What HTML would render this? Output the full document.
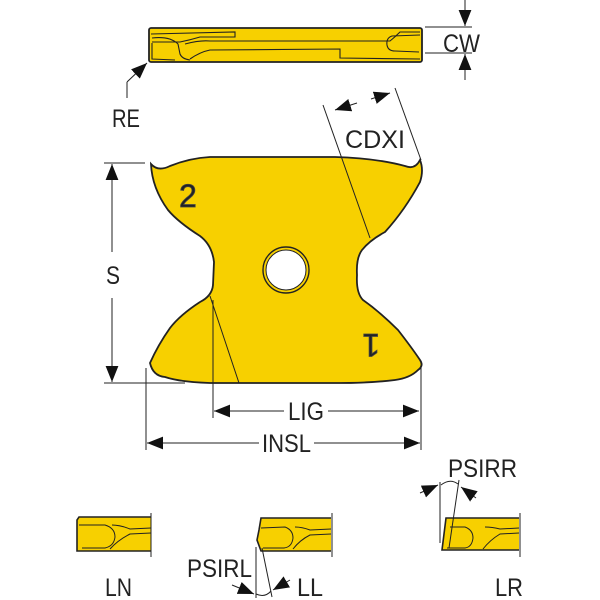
<!DOCTYPE html>
<html><head><meta charset="utf-8"><style>
html,body{margin:0;padding:0;background:#fff;}
svg{display:block;}
text{font-family:"Liberation Sans",sans-serif;fill:#222;}
</style></head><body>
<svg width="600" height="600" viewBox="0 0 600 600" xmlns="http://www.w3.org/2000/svg">
<defs>
<marker id="a" viewBox="0 0 10 10" refX="10" refY="5" markerWidth="12" markerHeight="12" markerUnits="userSpaceOnUse" orient="auto-start-reverse"><path d="M0,1 L10,5 L0,9z" fill="#111"/></marker>
<marker id="b" viewBox="0 0 10 10" refX="10" refY="5" markerWidth="16" markerHeight="16" markerUnits="userSpaceOnUse" orient="auto-start-reverse"><path d="M0,1 L10,5 L0,9z" fill="#111"/></marker>
</defs>
<g stroke="#222" stroke-width="1.8">
<rect x="149" y="28" width="273" height="34" rx="2" fill="#f7d000"/>
</g>
<g fill="none" stroke="#222" stroke-width="1.1">
<path d="M151,34 L235,32 L235,37 L200,37 Q190,40 180,42 L152,42"/>
<path d="M152,38 Q170,36 178,44 L180,54 Q182,59 190,60"/>
<path d="M152,43 L152,59 L175,60"/>
<path d="M190,59 Q200,52 210,50 L340,49 L340,58 L420,59"/>
<path d="M185,44 Q200,40 210,41 L390,41 Q395,37 400,32 L420,32"/>
<path d="M420,35 L392,36 Q386,38 387,45 Q388,51 395,51 L419,52"/>
</g>
<g stroke="#222" stroke-width="1" fill="none">
<line x1="425" y1="27" x2="472" y2="27"/>
<line x1="425" y1="53" x2="472" y2="53"/>
<line x1="465" y1="0" x2="465" y2="26" marker-end="url(#b)"/>
<line x1="465" y1="80" x2="465" y2="54" marker-end="url(#b)"/>
<line x1="127" y1="98" x2="127" y2="82"/>
<line x1="127" y1="82" x2="147" y2="63" marker-end="url(#b)"/>
</g>
<text x="443" y="52" font-size="25" textLength="37" lengthAdjust="spacingAndGlyphs">CW</text>
<text x="112" y="127" font-size="25" textLength="28" lengthAdjust="spacingAndGlyphs">RE</text>
<path d="M151,164 Q158,172 170,166 Q190,158 210,157 L335,157 Q375,158 405,166 Q415,170 420,160 Q424,170 420,182 Q405,210 385,232 Q370,240 362,250 Q356,258 357,275 Q356,293 363,300 Q380,312 398,330 Q412,348 420,360 Q424,366 418,370 Q410,378 395,380 Q370,383 340,383 L210,383 Q180,382 165,377 Q153,376 150,363 Q158,345 170,328 Q180,315 200,302 Q212,296 213,285 L214,262 Q212,245 200,236 Q178,222 168,210 Q152,188 151,164z" fill="#f7d000" stroke="#222" stroke-width="1.8"/>
<circle cx="286" cy="270" r="23" fill="#f7d000" stroke="#222" stroke-width="1.4"/>
<circle cx="286" cy="270" r="20" fill="#fff" stroke="#222" stroke-width="1"/>
<text x="179" y="207" font-size="32" fill="#f7d000" stroke="#444" stroke-width="0.8">2</text>
<text x="0" y="0" font-size="32" fill="#f7d000" stroke="#444" stroke-width="0.8" transform="translate(380,334) rotate(180)">1</text>
<g stroke="#222" stroke-width="1" fill="none">
<line x1="323" y1="105" x2="370" y2="238"/>
<line x1="395" y1="88" x2="421" y2="160"/>
<line x1="357" y1="103" x2="335" y2="110" marker-end="url(#b)"/>
<line x1="371" y1="99" x2="390" y2="93" marker-end="url(#b)"/>
<line x1="210" y1="296" x2="239" y2="383"/>
<line x1="104" y1="163" x2="145" y2="163"/>
<line x1="104" y1="383" x2="185" y2="383"/>
<line x1="112" y1="252" x2="112" y2="164" marker-end="url(#b)"/>
<line x1="112" y1="298" x2="112" y2="382" marker-end="url(#b)"/>
<line x1="213" y1="300" x2="213" y2="418"/>
<line x1="146" y1="368" x2="146" y2="450"/>
<line x1="421" y1="368" x2="421" y2="450"/>
<line x1="284" y1="411" x2="214" y2="411" marker-end="url(#b)"/>
<line x1="328" y1="411" x2="419" y2="411" marker-end="url(#b)"/>
<line x1="259" y1="443" x2="147" y2="443" marker-end="url(#b)"/>
<line x1="314" y1="443" x2="420" y2="443" marker-end="url(#b)"/>
</g>
<text x="345" y="148" font-size="25" textLength="60" lengthAdjust="spacingAndGlyphs">CDXI</text>
<text x="106" y="284" font-size="25" textLength="14" lengthAdjust="spacingAndGlyphs">S</text>
<text x="288" y="420" font-size="25" textLength="36" lengthAdjust="spacingAndGlyphs">LIG</text>
<text x="262" y="452" font-size="25" textLength="49" lengthAdjust="spacingAndGlyphs">INSL</text>
<g stroke="#222" stroke-width="1.6" fill="#f7d000">
<path d="M151,517 L79,517 L77,520 L77,551 L151,551"/>
<path d="M331,518 L261,518 L259,530 L257,540 L261,551 L331,551"/>
<path d="M519,518 L446,518 L442,550 L519,550"/>
</g>
<g stroke="#222" stroke-width="1" fill="none">
<path d="M79,525 L105,525 Q115,528 115,537 Q114,546 105,548 L82,548"/>
<path d="M151,528 L130,529 Q120,525 112,525 M151,533 L130,534 Q118,540 110,549"/>
<path d="M261,528 L285,527 Q293,530 293,538 Q292,547 284,548 L263,548"/>
<path d="M331,529 L310,530 Q302,527 295,527 M331,534 L310,535 Q300,540 293,549"/>
<path d="M450,527 L465,527 Q473,530 473,538 Q472,547 465,548 L447,548"/>
<path d="M519,528 L500,529 Q492,527 485,527 M519,533 L500,534 Q490,540 483,549"/>
<line x1="151" y1="513" x2="151" y2="557"/>
<line x1="332" y1="513" x2="332" y2="557"/>
<line x1="520" y1="513" x2="520" y2="557"/>
<line x1="256" y1="547" x2="256" y2="598"/>
<line x1="262" y1="548" x2="272" y2="597"/>
<path d="M256,594 Q265,598 271,591"/>
<line x1="232" y1="585" x2="254" y2="594" marker-end="url(#b)"/>
<line x1="290" y1="580" x2="273" y2="590" marker-end="url(#b)"/>
<line x1="440" y1="482" x2="440" y2="543"/>
<line x1="459" y1="480" x2="449" y2="548"/>
<path d="M441,485 Q450,478 458,484"/>
<line x1="420" y1="493" x2="438" y2="485" marker-end="url(#b)"/>
<line x1="476" y1="498" x2="461" y2="487" marker-end="url(#b)"/>
</g>
<text x="105" y="596" font-size="25" textLength="27" lengthAdjust="spacingAndGlyphs">LN</text>
<text x="187" y="577" font-size="25" textLength="65" lengthAdjust="spacingAndGlyphs">PSIRL</text>
<text x="297" y="596" font-size="25" textLength="26" lengthAdjust="spacingAndGlyphs">LL</text>
<text x="448" y="477" font-size="25" textLength="69" lengthAdjust="spacingAndGlyphs">PSIRR</text>
<text x="495" y="596" font-size="25" textLength="28" lengthAdjust="spacingAndGlyphs">LR</text>
</svg>
</body></html>
